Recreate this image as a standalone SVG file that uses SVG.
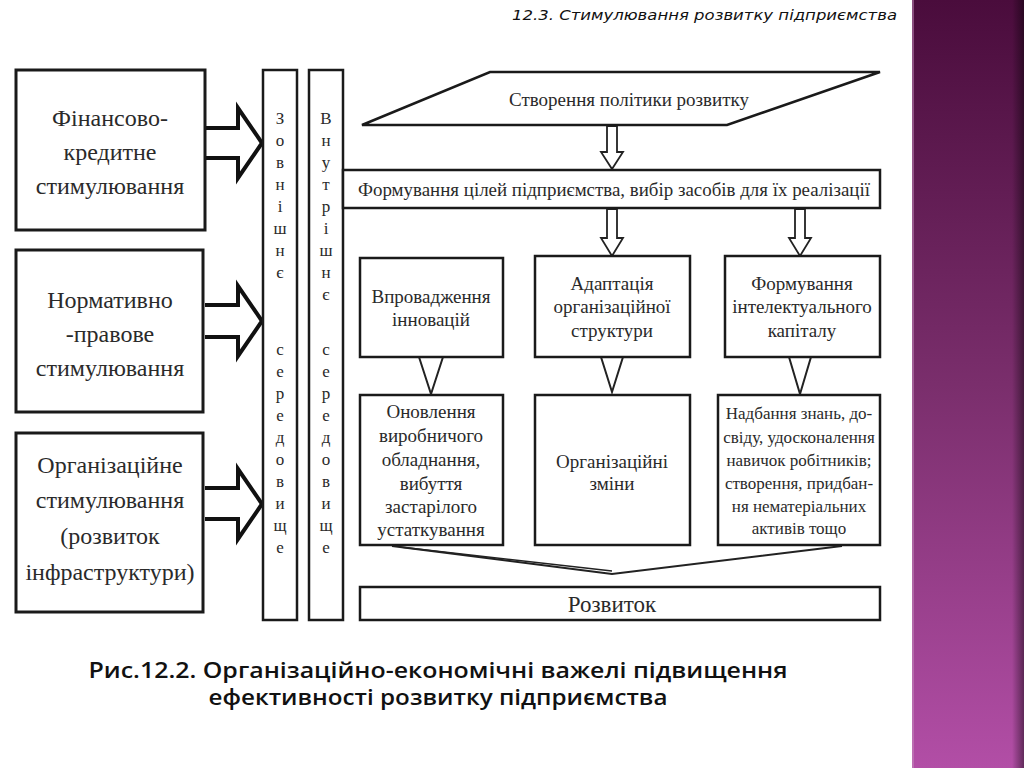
<svg xmlns="http://www.w3.org/2000/svg" width="1024" height="768" viewBox="0 0 1024 768">
<defs>
<linearGradient id="pg" x1="0" y1="0" x2="0" y2="1">
<stop offset="0" stop-color="#4a0c3c"/>
<stop offset="0.5" stop-color="#7a2e6c"/>
<stop offset="1" stop-color="#b24ea6"/>
</linearGradient>
<linearGradient id="sh" x1="0" y1="0" x2="1" y2="0">
<stop offset="0" stop-color="#000" stop-opacity="0"/>
<stop offset="1" stop-color="#000" stop-opacity="0.45"/>
</linearGradient>
<style>
.b{fill:#fff;stroke:#1a1a1a;stroke-width:2.5}
.lb{fill:#fff;stroke:#1a1a1a;stroke-width:3}
.fat{fill:#fff;stroke:#111;stroke-width:4;stroke-linejoin:miter}
.ha{fill:#fff;stroke:#222;stroke-width:1.8}
.v{fill:#fff;stroke:#222;stroke-width:2}
.t{font-family:"Liberation Serif","Times New Roman",serif;fill:#2a2a2a;text-anchor:middle}
.lt{font-size:24px}
.st{font-size:17px}
.rt{font-size:19px}
.ft{font-size:17px}
.cap{font-family:"Open Sans","Noto Sans","DejaVu Sans",sans-serif;font-weight:600;font-size:22px;fill:#111;text-anchor:middle}
.hd{font-family:"DejaVu Sans","Noto Sans",sans-serif;font-style:italic;font-size:14px;fill:#111}
</style>
</defs>
<rect width="1024" height="768" fill="#fff"/>
<g id="side-panel">
<rect x="912" y="0" width="112" height="768" fill="url(#pg)"/>
<rect x="1012" y="0" width="12" height="768" fill="url(#sh)"/>
<rect x="912" y="0" width="2" height="768" fill="#c88fbf" opacity="0.5"/>
</g>
<text class="hd" x="897" y="20" text-anchor="end" textLength="385" lengthAdjust="spacingAndGlyphs">12.3. Стимулювання розвитку підприємства</text>

<g id="connectors">
<path class="fat" d="M205,128 H238 V108 L262,143 L238,178 V158 H205"/>
<path class="fat" d="M205,305 H238 V286 L262,321 L238,356 V337 H205"/>
<path class="fat" d="M205,488 H238 V469 L262,504 L238,539 V519 H205"/>
<path class="ha" d="M607,126 V152 H601 L612,169 L623,152 H617 V126 Z"/>
<path class="ha" d="M607,209 V238 H601 L612,256 L623,238 H617 V209 Z"/>
<path class="ha" d="M795,209 V238 H789 L800,256 L811,238 H805 V209 Z"/>
<path class="v" d="M419,357 L431,394 L443,357"/>
<path class="v" d="M601,357 L612,392 L623,357"/>
<path class="v" d="M789,357 L800,394 L811,357"/>
<path fill="none" stroke="#222" stroke-width="2" d="M392,546 L612,574 L842,546"/>
<path fill="none" stroke="#222" stroke-width="1.5" d="M400,547 L612,571"/>
</g>

<g id="n-fin">
<rect class="lb" x="16" y="70" width="189" height="160"/>
<text class="t lt" x="110" y="126">Фінансово-</text>
<text class="t lt" x="110" y="160">кредитне</text>
<text class="t lt" x="110" y="194">стимулювання</text>
</g>
<g id="n-norm">
<rect class="lb" x="16" y="250" width="187" height="162"/>
<text class="t lt" x="110" y="308">Нормативно</text>
<text class="t lt" x="110" y="342">-правове</text>
<text class="t lt" x="110" y="376">стимулювання</text>
</g>
<g id="n-org">
<rect class="lb" x="16" y="433" width="187" height="179"/>
<text class="t lt" x="110" y="473">Організаційне</text>
<text class="t lt" x="110" y="508">стимулювання</text>
<text class="t lt" x="110" y="544">(розвиток</text>
<text class="t lt" x="110" y="580">інфраструктури)</text>
</g>

<g id="n-ext">
<rect class="b" x="263" y="70" width="34" height="550"/>
<g class="t st">
<text x="280" y="124">З</text><text x="280" y="146">о</text><text x="280" y="168">в</text><text x="280" y="190">н</text><text x="280" y="212">і</text><text x="280" y="234">ш</text><text x="280" y="256">н</text><text x="280" y="278">є</text>
<text x="280" y="355">с</text><text x="280" y="377">е</text><text x="280" y="399">р</text><text x="280" y="421">е</text><text x="280" y="443">д</text><text x="280" y="465">о</text><text x="280" y="487">в</text><text x="280" y="509">и</text><text x="280" y="531">щ</text><text x="280" y="553">е</text>
</g>
</g>
<g id="n-int">
<rect class="b" x="309" y="70" width="34" height="550"/>
<g class="t st">
<text x="326" y="124">В</text><text x="326" y="146">н</text><text x="326" y="168">у</text><text x="326" y="190">т</text><text x="326" y="212">р</text><text x="326" y="234">і</text><text x="326" y="256">ш</text><text x="326" y="278">н</text><text x="326" y="300">є</text>
<text x="326" y="355">с</text><text x="326" y="377">е</text><text x="326" y="399">р</text><text x="326" y="421">е</text><text x="326" y="443">д</text><text x="326" y="465">о</text><text x="326" y="487">в</text><text x="326" y="509">и</text><text x="326" y="531">щ</text><text x="326" y="553">е</text>
</g>
</g>

<g id="n-policy">
<polygon class="b" points="490,72 880,72 727,125 362,125"/>
<text class="t rt" x="629" y="106">Створення політики розвитку</text>
</g>
<g id="n-goals">
<rect class="b" x="343" y="170" width="537" height="38"/>
<text class="t rt" x="614" y="196" textLength="512" lengthAdjust="spacingAndGlyphs">Формування цілей підприємства, вибір засобів для їх реалізації</text>
</g>
<g id="n-innov">
<rect class="b" x="360" y="258" width="143" height="99"/>
<text class="t rt" x="431" y="303">Впровадження</text>
<text class="t rt" x="431" y="326">інновацій</text>
</g>
<g id="n-adapt">
<rect class="b" x="535" y="256" width="155" height="101"/>
<text class="t rt" x="612" y="290">Адаптація</text>
<text class="t rt" x="612" y="313">організаційної</text>
<text class="t rt" x="612" y="337">структури</text>
</g>
<g id="n-intel">
<rect class="b" x="725" y="256" width="155" height="101"/>
<text class="t rt" x="802" y="290">Формування</text>
<text class="t rt" x="802" y="313">інтелектуального</text>
<text class="t rt" x="802" y="337">капіталу</text>
</g>
<g id="n-renew">
<rect class="b" x="360" y="395" width="143" height="150"/>
<text class="t rt" x="431" y="418">Оновлення</text>
<text class="t rt" x="431" y="442">виробничого</text>
<text class="t rt" x="431" y="466">обладнання,</text>
<text class="t rt" x="431" y="490">вибуття</text>
<text class="t rt" x="431" y="513">застарілого</text>
<text class="t rt" x="431" y="536">устаткування</text>
</g>
<g id="n-orgch">
<rect class="b" x="535" y="395" width="155" height="150"/>
<text class="t rt" x="612" y="468">Організаційні</text>
<text class="t rt" x="612" y="490">зміни</text>
</g>
<g id="n-know">
<rect class="b" x="718" y="395" width="162" height="150"/>
<text class="t ft" x="799" y="419">Надбання знань, до-</text>
<text class="t ft" x="799" y="443">свіду, удосконалення</text>
<text class="t ft" x="799" y="466">навичок робітників;</text>
<text class="t ft" x="799" y="489">створення, придбан-</text>
<text class="t ft" x="799" y="512">ня нематеріальних</text>
<text class="t ft" x="799" y="534">активів тощо</text>
</g>
<g id="n-dev">
<rect class="b" x="360" y="587" width="520" height="33"/>
<text class="t" font-size="23" x="612" y="612">Розвиток</text>
</g>

<text class="cap" x="438" y="678" textLength="699" lengthAdjust="spacingAndGlyphs">Рис.12.2. Організаційно-економічні важелі підвищення</text>
<text class="cap" x="438" y="705" textLength="459" lengthAdjust="spacingAndGlyphs">ефективності розвитку підприємства</text>
</svg>
